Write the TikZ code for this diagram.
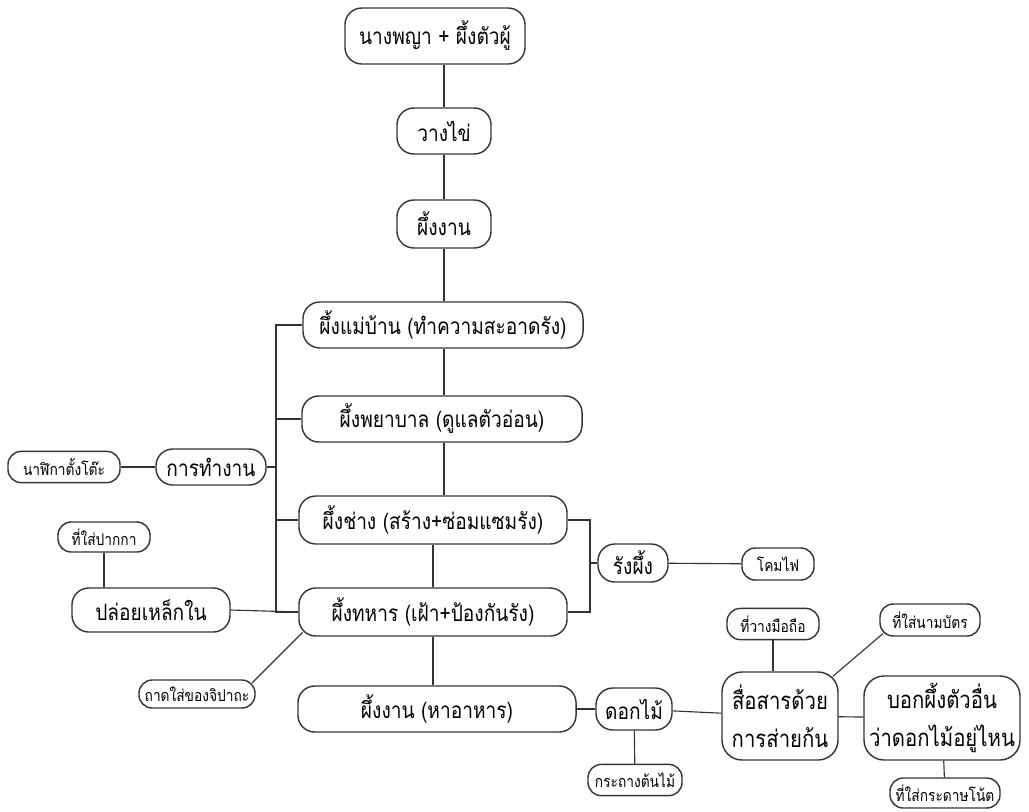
\documentclass[tikz,border=0pt]{standalone}
\usepackage{fontspec}
\setmainfont[Script=Thai, FakeStretch=0.85]{Loma}
\usetikzlibrary{positioning}
\definecolor{inkcol}{HTML}{333333}

\begin{document}
\begin{tikzpicture}[x=0.025cm, y=-0.025cm,
  beenode/.style={draw=inkcol, line width=1pt, rounded corners=0.42cm, fill=white, align=center, inner sep=2pt, font=\fontsize{16}{19}\selectfont},
  bignode/.style={beenode, rounded corners=0.5cm, font=\fontsize{17}{27}\selectfont},
  smallnode/.style={beenode, rounded corners=0.33cm, font=\fontsize{11.5}{13}\selectfont},
  link/.style={draw=inkcol, line width=0.8pt}
]
\useasboundingbox (0,0) rectangle (1029,811);

\node[beenode, minimum width=4.5cm, minimum height=1.4cm] (queen) at (435,36) {นางพญา + ผึ้งตัวผู้};
\node[beenode, minimum width=2.35cm, minimum height=1.15cm] (eggs) at (444,131) {วางไข่};
\node[beenode, minimum width=2.35cm, minimum height=1.2cm] (worker) at (444,224) {ผึ้งงาน};
\node[beenode, minimum width=7cm, minimum height=1.15cm] (maid) at (443,325) {ผึ้งแม่บ้าน (ทำความสะอาดรัง)};
\node[beenode, minimum width=7cm, minimum height=1.15cm] (nurse) at (442,419) {ผึ้งพยาบาล (ดูแลตัวอ่อน)};
\node[beenode, minimum width=6.7cm, minimum height=1.2cm] (builder) at (433,520) {ผึ้งช่าง (สร้าง+ซ่อมแซมรัง)};
\node[beenode, minimum width=6.7cm, minimum height=1.2cm] (guard) at (433,612) {ผึ้งทหาร (เฝ้า+ป้องกันรัง)};
\node[beenode, minimum width=6.95cm, minimum height=1.15cm] (forager) at (437,709) {ผึ้งงาน (หาอาหาร)};

\node[beenode, minimum width=2.75cm, minimum height=0.9cm] (work) at (211,467) {การทำงาน};
\node[smallnode, minimum width=2.8cm, minimum height=0.78cm] (clock) at (64,467) {นาฬิกาตั้งโต๊ะ};
\node[smallnode, minimum width=2.3cm, minimum height=0.75cm] (pens) at (104,537) {ที่ใส่ปากกา};
\node[beenode, minimum width=3.95cm, minimum height=1.1cm] (sting) at (151,610) {ปล่อยเหล็กใน};
\node[smallnode, minimum width=2.9cm, minimum height=0.7cm] (tray) at (197,694) {ถาดใส่ของจิปาถะ};

\node[beenode, minimum width=1.75cm, minimum height=0.95cm] (nest) at (633,563) {รังผึ้ง};
\node[smallnode, minimum width=1.8cm, minimum height=0.8cm] (lamp) at (778,564) {โคมไฟ};
\node[beenode, minimum width=1.9cm, minimum height=1.05cm] (flower) at (634,709) {ดอกไม้};
\node[smallnode, minimum width=2.35cm, minimum height=0.78cm] (pot) at (635,780) {กระถางต้นไม้};
\node[bignode, minimum width=2.9cm, minimum height=2.2cm] (dance) at (780,716) {สื่อสารด้วย\\การส่ายก้น};
\node[smallnode, minimum width=2.3cm, minimum height=0.78cm] (phone) at (773,624) {ที่วางมือถือ};
\node[smallnode, minimum width=2.5cm, minimum height=0.8cm] (cards) at (930,620) {ที่ใส่นามบัตร};
\node[bignode, minimum width=3.9cm, minimum height=2.1cm] (tell) at (942,718) {บอกผึ้งตัวอื่น\\ว่าดอกไม้อยู่ไหน};
\node[smallnode, minimum width=2.75cm, minimum height=0.75cm] (notes) at (945,793) {ที่ใส่กระดาษโน้ต};

\coordinate (busTop) at (276,325);
\coordinate (busBot) at (276,612);
\coordinate (nestBar) at (590,563);

\draw[link] (queen.south -| worker) -- (eggs.north -| worker);
\draw[link] (eggs.south -| worker) -- (worker.north);
\draw[link] (worker.south) -- (maid.north -| worker);
\draw[link] (maid.south -| worker) -- (nurse.north -| worker);
\draw[link] (nurse.south -| worker) -- (builder.north -| worker);
\draw[link] (builder.south -| guard) -- (guard.north);
\draw[link] (guard.south) -- (forager.north -| guard);

\draw[link] (maid.west) -- (busTop) -- (busBot) -- (guard.west);
\draw[link] (nurse.west) -- (nurse.west -| busTop);
\draw[link] (builder.west) -- (builder.west -| busTop);
\draw[link] (work.east) -- (work.east -| busTop);
\draw[link] (clock) -- (work);
\draw[link] (pens) -- (pens |- sting.north);
\draw[link] (sting.east) -- (guard.west);
\draw[link, shorten <=-3.5pt, shorten >=-4.5pt] (tray.north east) -- (guard.south west);

\draw[link] (builder.east) -| (nestBar) |- (guard.east);
\draw[link] (nestBar) -- (nest.west);
\draw[link] (nest) -- (lamp);

\draw[link] (forager) -- (flower);
\draw[link] (flower) -- (pot);
\draw[link] (flower) -- (dance);
\draw[link] (dance) -- (tell);
\draw[link] (phone) -- (phone |- dance.north);
\draw[link, shorten <=-5.5pt, shorten >=-3.5pt] (dance.north east) -- (cards.south west);
\draw[link] (tell) -- (notes);
\end{tikzpicture}
\end{document}
